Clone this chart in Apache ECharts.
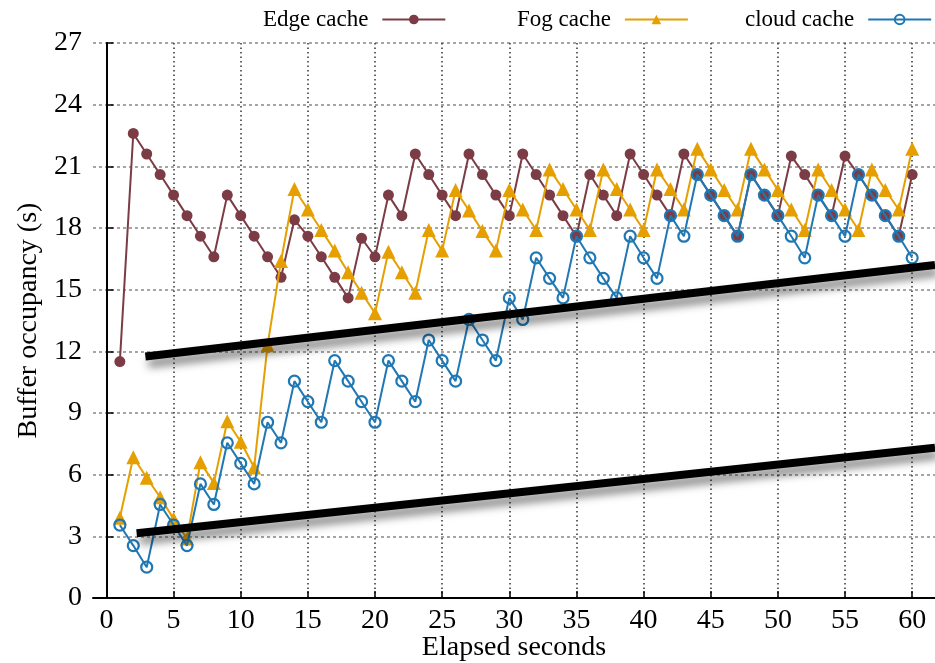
<!DOCTYPE html>
<html>
<head>
<meta charset="utf-8">
<script src="https://cdn.jsdelivr.net/npm/echarts@6/dist/echarts.min.js"></script>
<style>
  html, body { margin: 0; padding: 0; background: #fff; }
  #chart { width: 935px; height: 663px; }
</style>
</head>
<body>
<div id="chart"></div>
<script>
const seconds = []
for (let s = 1; s <= 60; s++) seconds.push(s)

const edgeCache = [11.5, 22.6, 21.6, 20.6, 19.6, 18.6, 17.6, 16.6, 19.6, 18.6, 17.6, 16.6, 15.6,
  18.4, 17.6, 16.6, 15.6, 14.6, 17.5, 16.6,
  19.6, 18.6, 21.6, 20.6, 19.6, 18.6, 21.6, 20.6, 19.6, 18.6, 21.6, 20.6, 19.6,
  18.6, 17.6, 20.6, 19.6, 18.6, 21.6, 20.6, 19.6, 18.6, 21.6, 20.6, 19.6,
  18.6, 17.6, 20.6, 19.6, 18.6, 21.5, 20.6, 19.6, 18.6, 21.5, 20.6, 19.6, 18.6, 17.6, 20.6]

const fogCache = [3.9, 6.85, 5.85, 4.9, 3.85, 2.9, 6.6, 5.6, 8.6, 7.6, 6.35, 12.3, 16.4,
  19.9, 18.9, 17.9, 16.9, 15.85, 14.85, 13.85,
  16.85, 15.85, 14.85, 17.9, 16.9, 19.85, 18.85, 17.85, 16.9, 19.85, 18.9, 17.9, 20.85,
  19.9, 18.9, 17.9, 20.85, 19.9, 18.9, 17.9, 20.85, 19.9, 18.9, 21.85, 20.85,
  19.85, 18.9, 21.85, 20.85, 19.85, 18.9, 17.9, 20.85, 19.85, 18.9, 17.9, 20.85, 19.85, 18.9, 21.85]

const cloudCache = [3.55, 2.55, 1.5, 4.55, 3.55, 2.55, 5.55, 4.55, 7.55, 6.55, 5.55, 8.55, 7.55,
  10.55, 9.55, 8.55, 11.55, 10.55, 9.55, 8.55,
  11.55, 10.55, 9.55, 12.55, 11.55, 10.55, 13.55, 12.55, 11.55, 14.6, 13.55, 16.55, 15.55,
  14.6, 17.6, 16.55, 15.55, 14.6, 17.6, 16.55, 15.55, 18.6, 17.6, 20.6, 19.6,
  18.6, 17.6, 20.6, 19.6, 18.6, 17.6, 16.55, 19.6, 18.6, 17.6, 20.6, 19.6, 18.6, 17.6, 16.55]

// the two thick black guide lines drawn over the plot
const upperTrend = [[2.9, 11.75], [61.7, 16.2]]
const lowerTrend = [[2.25, 3.15], [61.7, 7.31]]

const xTicks = [0, 5, 10, 15, 20, 25, 30, 35, 40, 45, 50, 55, 60]

const font = "'Liberation Serif', 'Times New Roman', serif"
const edgeColor = '#7b3c45'
const fogColor = '#e69f00'
const cloudColor = '#1f78b4'

function pairs(values) {
  return seconds.map((s, i) => [s, values[i]])
}

function legendAt(left, name) {
  return {
    left: left,
    top: 3,
    align: 'right',
    itemWidth: 63,
    itemHeight: 12,
    textStyle: { fontFamily: font, fontSize: 23, color: '#000', padding: [0, 9, 0, 0] },
    data: [name]
  }
}

const chart = echarts.init(document.getElementById('chart'))

chart.setOption({
  animation: false,
  backgroundColor: '#fff',
  grid: { left: 93, top: 43, right: 0, bottom: 65, outerBoundsMode: 'none', containLabel: false },
  legend: [
    legendAt(258, 'Edge cache'),
    legendAt(512, 'Fog cache'),
    legendAt(740, 'cloud cache')
  ],
  xAxis: {
    type: 'value',
    min: -1,
    max: 61.7,
    name: 'Elapsed seconds',
    nameLocation: 'middle',
    nameGap: 36,
    nameMoveOverlap: false,
    nameTextStyle: { fontFamily: font, fontSize: 28, color: '#000' },
    axisLine: { show: true, onZero: false, lineStyle: { color: '#000', width: 2 } },
    axisTick: { show: true, inside: true, length: 7, customValues: xTicks, lineStyle: { color: '#000', width: 1.5 } },
    axisLabel: { customValues: xTicks, fontFamily: font, fontSize: 28, color: '#000', margin: 9 },
    splitLine: { show: true, lineStyle: { color: '#333', type: [1.5, 3], width: 1.5 } }
  },
  yAxis: {
    type: 'value',
    min: 0,
    max: 27,
    interval: 3,
    name: 'Buffer occupancy (s)',
    nameLocation: 'middle',
    nameGap: 50,
    nameTextStyle: { fontFamily: font, fontSize: 28, color: '#000' },
    axisLine: { show: true, lineStyle: { color: '#000', width: 2 } },
    axisTick: { show: true, inside: true, length: 7, lineStyle: { color: '#000', width: 1.5 } },
    axisLabel: { fontFamily: font, fontSize: 28, color: '#000', margin: 11 },
    splitLine: { show: true, lineStyle: { color: '#888', type: [3, 3], width: 1.5 } }
  },
  series: [
    {
      name: 'Edge cache',
      type: 'line',
      data: pairs(edgeCache),
      symbol: 'circle',
      symbolSize: 11,
      itemStyle: { color: edgeColor },
      lineStyle: { color: edgeColor, width: 2 },
      z: 2
    },
    {
      name: 'Fog cache',
      type: 'line',
      data: pairs(fogCache),
      symbol: 'triangle',
      symbolSize: 14,
      itemStyle: { color: fogColor },
      lineStyle: { color: fogColor, width: 2 },
      z: 3
    },
    {
      name: 'cloud cache',
      type: 'line',
      data: pairs(cloudCache),
      symbol: 'circle',
      symbolSize: 11,
      itemStyle: { color: 'rgba(0,0,0,0)', borderColor: cloudColor, borderWidth: 2.2 },
      lineStyle: { color: cloudColor, width: 2 },
      z: 4
    },
    {
      type: 'line',
      data: upperTrend,
      symbol: 'none',
      silent: true,
      lineStyle: { color: '#000', width: 8, shadowColor: 'rgba(0,0,0,0.5)', shadowBlur: 9, shadowOffsetX: 3, shadowOffsetY: 7 },
      z: 5
    },
    {
      type: 'line',
      data: lowerTrend,
      symbol: 'none',
      silent: true,
      lineStyle: { color: '#000', width: 8, shadowColor: 'rgba(0,0,0,0.5)', shadowBlur: 9, shadowOffsetX: 3, shadowOffsetY: 7 },
      z: 5
    }
  ]
})
</script>
</body>
</html>
